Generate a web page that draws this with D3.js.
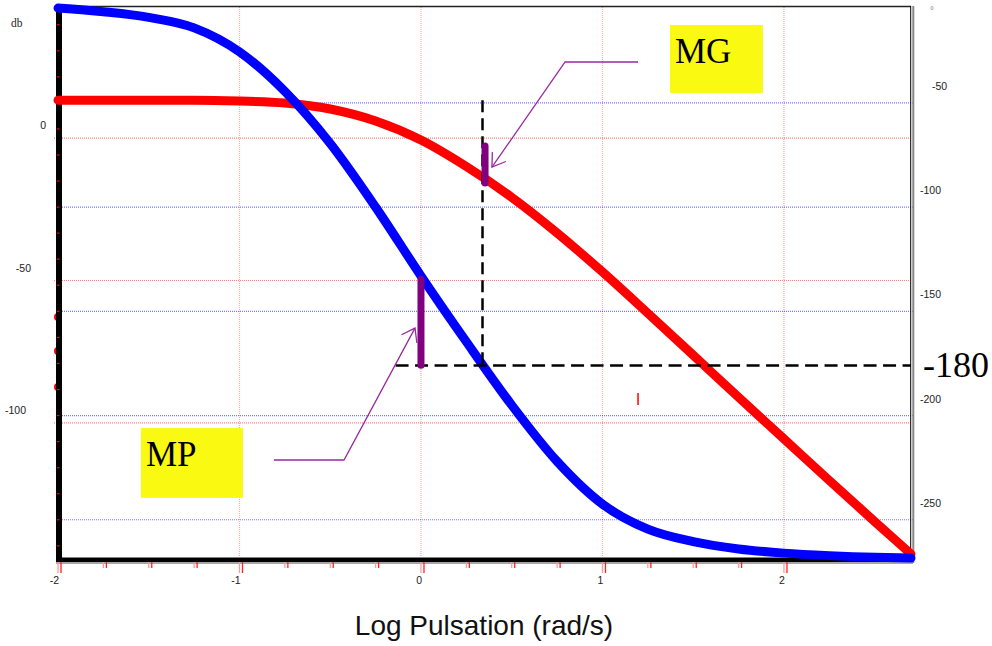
<!DOCTYPE html>
<html>
<head>
<meta charset="utf-8">
<script src="https://cdn.jsdelivr.net/npm/d3@7"></script>
<style>
    html, body { margin: 0; padding: 0; background: #fff; }
    svg { display: block; }
</style>
</head>
<body>
<svg id="bode" width="992" height="646"></svg>
<script>
// log10 of pulsation where the curves were read
const logW = [-2, -1.75, -1.5, -1.25, -1, -0.75, -0.5, -0.25, 0, 0.25, 0.5, 0.75, 1, 1.25, 1.5, 1.75, 2, 2.25, 2.5, 2.7];
// gain (dB, left axis) - red curve
const gainDb = [13.3, 13.3, 13.3, 13.3, 13.0, 12.3, 10.2, 6.0, -0.7, -10, -20.8, -33.3, -47, -61.5, -76.2, -91, -105.6, -120.2, -134.6, -146];
// phase (deg, right axis) - blue curve
const phaseDeg = [-4.5, -6.3, -9, -14, -25.5, -44.5, -69.5, -100, -133, -164.6, -195, -222, -242.5, -254.5, -260.5, -264, -266, -267.2, -268, -268.3];

// axes ticks / grid
const xLabelVals = [-2, -1, 0, 1, 2];
const xGridVals = [-1, 0, 1, 2];
const dbLabelVals = [0, -50, -100];
const phaseLabelVals = [-50, -100, -150, -200, -250];

// annotations
const phaseCross = -176;          // level of the "-180" dashed line
const logCross = 0.339;           // phase crossover pulsation
const dashStart = -0.14;
const lowGain = 13.3;
const mgBar = { w: 0.353, from: -2.8, to: -15.8 };      // dB
const mpBar = { w: 0, from: -134.7, to: -175.9 };       // deg
const mgLeader = [[1.196, 26.7], [0.794, 26.7], [0.391, -10.2]];
const mpLeader = [[-0.81, -113], [-0.424, -113], [-0.033, -66.7]];
const mgBox = { x0: 1.372, x1: 1.884, top: 39.7, bottom: 15.8, text: "MG" };
const mpBox = { x0: -1.543, x1: -0.981, top: -101.8, bottom: -126.3, text: "MP" };
const strayDots = [-62.8, -74.7, -87.4];   // dB, at log w = -2
const strayTick = { w: 1.196, from: -189.2, to: -194.9 };

const SANS = "'Liberation Sans', Arial, sans-serif";
const SERIF = "'Liberation Serif', 'Times New Roman', serif";

const svg = d3.select("#bode");
const plot = { left: 58, right: 911, top: 7, bottom: 560 };

const x = d3.scaleLinear().domain([-2, 2.7]).range([plot.left, plot.right]);
const yDb = d3.scaleLinear().domain([46, -148.1]).range([plot.top, plot.bottom]);
const yPh = d3.scaleLinear().domain([-4, -269.3]).range([plot.top, plot.bottom]);

// grid
const grid = svg.append("g");
grid.selectAll(".vg").data(xGridVals).join("line")
    .attr("x1", d => x(d)).attr("x2", d => x(d))
    .attr("y1", plot.top).attr("y2", plot.bottom - 3)
    .attr("stroke", "#ff4d4d").attr("stroke-opacity", 0.5)
    .attr("stroke-width", 1.2).attr("stroke-dasharray", "1,1");
grid.selectAll(".hg").data(dbLabelVals).join("line")
    .attr("x1", plot.left - 4).attr("x2", plot.right - 2)
    .attr("y1", d => yDb(d)).attr("y2", d => yDb(d))
    .attr("stroke", "#ff3030").attr("stroke-opacity", 0.6)
    .attr("stroke-width", 1.2).attr("stroke-dasharray", "1,1");
grid.selectAll(".pg").data(phaseLabelVals).join("line")
    .attr("x1", plot.left + 4).attr("x2", plot.right + 2)
    .attr("y1", d => yPh(d)).attr("y2", d => yPh(d))
    .attr("stroke", "#2020ff").attr("stroke-opacity", 0.6)
    .attr("stroke-width", 1.2).attr("stroke-dasharray", "1,1");

// stray points on the left border
svg.append("g").selectAll("circle").data(strayDots).join("circle")
    .attr("cx", x(-2)).attr("cy", d => yDb(d)).attr("r", 4).attr("fill", "red");

// frame
const frame = svg.append("g");
frame.append("line").attr("x1", plot.left).attr("x2", plot.right)
    .attr("y1", plot.top - 0.5).attr("y2", plot.top - 0.5)
    .attr("stroke", "#222").attr("stroke-width", 1.5);
frame.append("line").attr("x1", plot.right - 0.3).attr("x2", plot.right - 0.3)
    .attr("y1", plot.top - 1).attr("y2", plot.bottom + 2)
    .attr("stroke", "#000").attr("stroke-width", 1);
frame.append("line").attr("x1", plot.right + 2.3).attr("x2", plot.right + 2.3)
    .attr("y1", plot.top - 1).attr("y2", plot.bottom + 3)
    .attr("stroke", "#888").attr("stroke-width", 2);
frame.append("line").attr("x1", plot.left - 2).attr("x2", plot.right + 2)
    .attr("y1", plot.bottom + 3).attr("y2", plot.bottom + 3)
    .attr("stroke", "#888").attr("stroke-width", 1.5);
frame.append("rect").attr("x", plot.left - 2).attr("y", plot.bottom - 2.5)
    .attr("width", plot.right - plot.left + 2).attr("height", 4.5).attr("fill", "#000");
frame.append("rect").attr("x", plot.left - 2).attr("y", plot.top - 1)
    .attr("width", 6).attr("height", plot.bottom - plot.top + 3).attr("fill", "#000");

// bottom ticks: pairs every quarter decade
const quarterVals = d3.range(-2, 2.001, 0.25);
const isInt = v => Math.abs(v - Math.round(v)) < 1e-6;
[[0, "#ff9a9a"], [3, "#ff2020"]].forEach(([off, col]) => {
    svg.append("g").selectAll("line").data(quarterVals).join("line")
        .attr("x1", d => x(d) + off).attr("x2", d => x(d) + off)
        .attr("y1", plot.bottom + 2).attr("y2", d => plot.bottom + (isInt(d) ? 13 : 8))
        .attr("stroke", col).attr("stroke-width", 1.3);
});

// left minor ticks (phase, every 12.5 deg)
svg.append("g").selectAll("line").data(d3.range(-12.5, -269, -12.5)).join("line")
    .attr("x1", plot.left - 1).attr("x2", plot.left + 1.5)
    .attr("y1", d => yPh(d)).attr("y2", d => yPh(d))
    .attr("stroke", "red").attr("stroke-width", 1.2);

// tick labels
const labels = svg.append("g").attr("font-family", SANS).attr("font-size", "10.5px").attr("fill", "#222");
labels.selectAll(".xl").data(xLabelVals).join("text")
    .attr("x", d => x(d) + 1).attr("y", plot.bottom + 24)
    .attr("text-anchor", "end").text(d => d);
const dbLabelX = { "0": 46, "-50": 31, "-100": 26 };
labels.selectAll(".dl").data(dbLabelVals).join("text")
    .attr("x", d => dbLabelX[d]).attr("y", d => yDb(d) - 9)
    .attr("text-anchor", "end").text(d => d);
labels.selectAll(".pl").data(phaseLabelVals).join("text")
    .attr("x", d => d === -50 ? plot.right + 21 : plot.right + 9)
    .attr("y", d => yPh(d) - 13)
    .text(d => d);
svg.append("text").attr("x", 11).attr("y", 27)
    .attr("font-family", SERIF).attr("font-size", "11.5px").attr("fill", "#222").text("db");
svg.append("text").attr("x", 930).attr("y", 14)
    .attr("font-family", SANS).attr("font-size", "10px").attr("fill", "#888").text("°");

// axis title
svg.append("text").attr("x", 484).attr("y", 635).attr("text-anchor", "middle")
    .attr("font-family", SANS).attr("font-size", "28px").attr("fill", "#111")
    .text("Log Pulsation (rad/s)");

// curves
const gainLine = d3.line().x((d, i) => x(logW[i])).y(d => yDb(d)).curve(d3.curveMonotoneX);
const phaseLine = d3.line().x((d, i) => x(logW[i])).y(d => yPh(d)).curve(d3.curveMonotoneX);
svg.append("path").attr("d", gainLine(gainDb))
    .attr("fill", "none").attr("stroke", "#ff0000").attr("stroke-width", 9)
    .attr("stroke-linecap", "round").attr("stroke-linejoin", "round");
svg.append("path").attr("d", phaseLine(phaseDeg))
    .attr("fill", "none").attr("stroke", "#0000ff").attr("stroke-width", 9)
    .attr("stroke-linecap", "round").attr("stroke-linejoin", "round");

// stray red tick
svg.append("line")
    .attr("x1", x(strayTick.w)).attr("x2", x(strayTick.w))
    .attr("y1", yPh(strayTick.from)).attr("y2", yPh(strayTick.to))
    .attr("stroke", "red").attr("stroke-width", 1.5);

// dashed crossover lines
svg.append("line")
    .attr("x1", x(dashStart)).attr("x2", plot.right)
    .attr("y1", yPh(phaseCross)).attr("y2", yPh(phaseCross))
    .attr("stroke", "#000").attr("stroke-width", 2.5).attr("stroke-dasharray", "13,6.5");
svg.append("line")
    .attr("x1", x(logCross)).attr("x2", x(logCross))
    .attr("y1", yDb(lowGain)).attr("y2", yPh(phaseCross))
    .attr("stroke", "#000").attr("stroke-width", 2.5).attr("stroke-dasharray", "12,6");
svg.append("text").attr("x", plot.right + 12).attr("y", yPh(phaseCross) + 11.5)
    .attr("font-family", SERIF).attr("font-size", "36px").attr("fill", "#000").text("-180");

// margin bars
svg.append("line")
    .attr("x1", x(mgBar.w)).attr("x2", x(mgBar.w))
    .attr("y1", yDb(mgBar.from)).attr("y2", yDb(mgBar.to))
    .attr("stroke", "#800080").attr("stroke-width", 7).attr("stroke-linecap", "round");
svg.append("line")
    .attr("x1", x(mpBar.w)).attr("x2", x(mpBar.w))
    .attr("y1", yPh(mpBar.from)).attr("y2", yPh(mpBar.to))
    .attr("stroke", "#800080").attr("stroke-width", 7).attr("stroke-linecap", "round");

// leaders with open arrow heads
function leader(pts, ang) {
    const p = pts.map(d => [x(d[0]), yDb(d[1])]);
    svg.append("path").attr("d", d3.line()(p))
        .attr("fill", "none").attr("stroke", "#9a2a9e").attr("stroke-width", 1.3);
    const tip = p[p.length - 1], prev = p[p.length - 2];
    const back = Math.atan2(prev[1] - tip[1], prev[0] - tip[0]);
    const barbs = [back - ang, back + ang].map(a => [tip[0] + 15 * Math.cos(a), tip[1] + 15 * Math.sin(a)]);
    svg.append("path").attr("d", d3.line()([barbs[0], tip, barbs[1]]))
        .attr("fill", "none").attr("stroke", "#9a2a9e").attr("stroke-width", 1.3);
}
leader(mgLeader, 0.58);
leader(mpLeader, 0.62);

// label boxes
[mgBox, mpBox].forEach(b => {
    svg.append("rect")
        .attr("x", x(b.x0)).attr("y", yDb(b.top))
        .attr("width", x(b.x1) - x(b.x0)).attr("height", yDb(b.bottom) - yDb(b.top))
        .attr("fill", "#f9f912");
    svg.append("text")
        .attr("x", x(b.x0) + 5).attr("y", yDb(b.top) + 38)
        .attr("font-family", SERIF).attr("font-size", "35px").attr("fill", "#000")
        .text(b.text);
});
</script>
</body>
</html>
